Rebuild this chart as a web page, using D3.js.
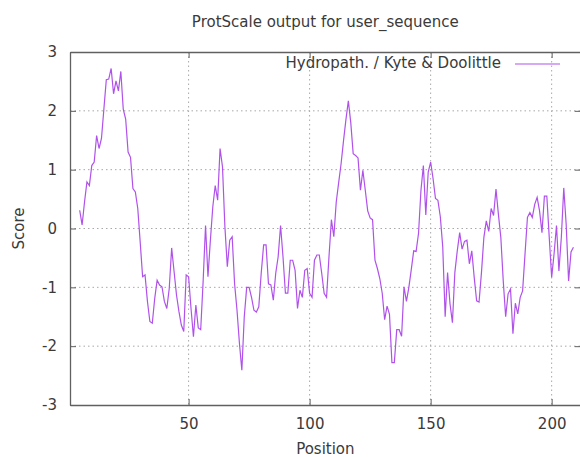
<!DOCTYPE html>
<html>
<head>
<meta charset="utf-8">
<script src="https://cdn.jsdelivr.net/npm/d3@7"></script>

<style>

  body, html {
    padding: 0;
    margin: 0;
    background: #fff;
  }

  svg {
    display: block;
    font-family: "DejaVu Sans", sans-serif;
  }

</style>
</head>

<body>
  <svg width="580" height="457"></svg>

  <script>

    // Kyte & Doolittle scores, window 9, so the first position is 5
    var firstPos = 5;
    var scores = [
      0.31, 0.06, 0.45, 0.79, 0.73, 1.07, 1.13, 1.58, 1.36, 1.53,
      2.03, 2.53, 2.54, 2.72, 2.29, 2.51, 2.34, 2.67, 2.03, 1.86,
      1.3, 1.21, 0.68, 0.62, 0.34, -0.23, -0.82, -0.79, -1.24, -1.58,
      -1.61, -1.19, -0.88, -0.96, -0.99, -1.24, -1.36, -1.02, -0.33, -0.73,
      -1.13, -1.41, -1.64, -1.75, -0.79, -0.82, -1.36, -1.84, -1.3, -1.69,
      -1.72, -0.9, 0.05, -0.82, -0.2, 0.37, 0.73, 0.48, 1.36, 1.05,
      0.03, -0.65, -0.2, -0.14, -0.94, -1.39, -1.95, -2.41, -1.5, -1.0,
      -1.0, -1.17, -1.39, -1.42, -1.33, -0.76, -0.28, -0.28, -0.94, -0.96,
      -1.22, -0.76, -0.48, 0.05, -0.48, -1.1, -1.1, -0.54, -0.54, -0.71,
      -1.36, -1.05, -1.17, -0.71, -0.68, -1.1, -1.17, -0.54, -0.45, -0.45,
      -0.76, -1.1, -1.17, -0.48, 0.15, -0.14, 0.45, 0.78, 1.1, 1.49,
      1.85, 2.17, 1.8, 1.27, 1.24, 1.2, 0.65, 0.99, 0.65, 0.3,
      0.18, 0.15, -0.54, -0.68, -0.85, -1.1, -1.55, -1.32, -1.46, -2.28,
      -2.28, -1.72, -1.72, -1.83, -0.99, -1.24, -1.0, -0.7, -0.38, -0.39,
      -0.08, 0.65, 1.07, 0.23, 0.96, 1.13, 0.85, 0.51, 0.48, 0.2,
      -0.31, -1.5, -0.75, -1.28, -1.6, -0.75, -0.38, -0.07, -0.35, -0.22,
      -0.2, -0.6, -0.38, -0.83, -1.23, -1.25, -0.75, -0.15, 0.13, -0.05,
      0.34, 0.22, 0.67, 0.24, -0.15, -0.89, -1.5, -1.11, -1.03, -1.79,
      -1.27, -1.45, -1.17, -1.06, -0.43, 0.19, 0.27, 0.19, 0.41, 0.53,
      0.3, -0.07, 0.55, 0.55, -0.15, -0.83, -0.43, 0.05, -0.72, -0.15,
      0.69, 0.07, -0.89, -0.4, -0.32
    ];
    var xTicks = [50, 100, 150, 200];
    var yTicks = [-3, -2, -1, 0, 1, 2, 3];
    var seriesName = 'Hydropath. / Kyte & Doolittle';

    // plot box (window.top is reserved, so no plain "top")
    var pl = 70, pr = 580.7, pt = 52, pb = 405;
    var ink = '#3a3a3a', lineColor = '#b052ea', fs = '15px';

    var x = d3.scaleLinear().domain([1, 212]).range([pl, pr]),
        y = d3.scaleLinear().domain([-3, 3]).range([pb, pt]);

    var svg = d3.select('svg');

    // grid
    var grid = svg.append('g');
    grid.selectAll('line.gx').data(xTicks).enter().append('line').attr('class', 'gx')
      .attr('x1', function (d) { return x(d); }).attr('x2', function (d) { return x(d); })
      .attr('y1', pt).attr('y2', pb);
    grid.selectAll('line.gy').data(yTicks.slice(1, -1)).enter().append('line').attr('class', 'gy')
      .attr('x1', pl).attr('x2', pr)
      .attr('y1', function (d) { return y(d); }).attr('y2', function (d) { return y(d); });
    grid.selectAll('line')
      .attr('stroke', '#a8a8a8').attr('stroke-width', 1).attr('stroke-dasharray', '1.5,3');

    // plain hyphen minus, as gnuplot prints it
    var plain = function (d) { return String(d); };

    // axes, ticks pointing inwards like gnuplot
    var xAxis = d3.axisBottom(x).tickValues(xTicks).tickFormat(plain).tickSizeInner(-6).tickSizeOuter(0).tickPadding(13),
        xTop = d3.axisTop(x).tickValues(xTicks).tickSizeInner(-6).tickSizeOuter(0).tickFormat(''),
        yAxis = d3.axisLeft(y).tickValues(yTicks).tickFormat(plain).tickSizeInner(-6).tickSizeOuter(0).tickPadding(13),
        yRight = d3.axisRight(y).tickValues(yTicks).tickSizeInner(-6).tickSizeOuter(0).tickFormat('');

    svg.append('g').attr('class', 'axis').attr('transform', 'translate(0,' + pb + ')').call(xAxis);
    svg.append('g').attr('class', 'axis').attr('transform', 'translate(0,' + pt + ')').call(xTop);
    svg.append('g').attr('class', 'axis').attr('transform', 'translate(' + pl + ',0)').call(yAxis);
    svg.append('g').attr('class', 'axis').attr('transform', 'translate(' + pr + ',0)').call(yRight);

    svg.selectAll('.axis path').attr('stroke', '#606060').attr('stroke-width', 1.3);
    svg.selectAll('.axis line').attr('stroke', '#606060').attr('stroke-width', 1);
    svg.selectAll('.axis text').attr('fill', ink).style('font-size', fs)
      .style('font-family', '"DejaVu Sans", sans-serif');

    // data line
    var line = d3.line()
      .x(function (d, i) { return x(firstPos + i); })
      .y(function (d) { return y(d); });

    svg.append('path')
      .datum(scores)
      .attr('d', line)
      .attr('fill', 'none')
      .attr('stroke', lineColor)
      .attr('stroke-width', 1.2);

    // legend
    svg.append('text')
      .attr('x', 501).attr('y', 68)
      .attr('text-anchor', 'end')
      .attr('fill', ink).style('font-size', fs)
      .text(seriesName);
    svg.append('line')
      .attr('x1', 515).attr('x2', 560).attr('y1', 64).attr('y2', 64)
      .attr('stroke', lineColor).attr('stroke-width', 1.2);

    // titles
    svg.append('text')
      .attr('x', (pl + pr) / 2).attr('y', 27)
      .attr('text-anchor', 'middle')
      .attr('fill', ink).style('font-size', fs)
      .text('ProtScale output for user_sequence');

    svg.append('text')
      .attr('x', (pl + pr) / 2).attr('y', 454)
      .attr('text-anchor', 'middle')
      .attr('fill', ink).style('font-size', fs)
      .text('Position');

    svg.append('text')
      .attr('transform', 'translate(24,' + y(0) + ') rotate(-90)')
      .attr('text-anchor', 'middle')
      .attr('fill', ink).style('font-size', fs)
      .text('Score');

  </script>
</body>
</html>
